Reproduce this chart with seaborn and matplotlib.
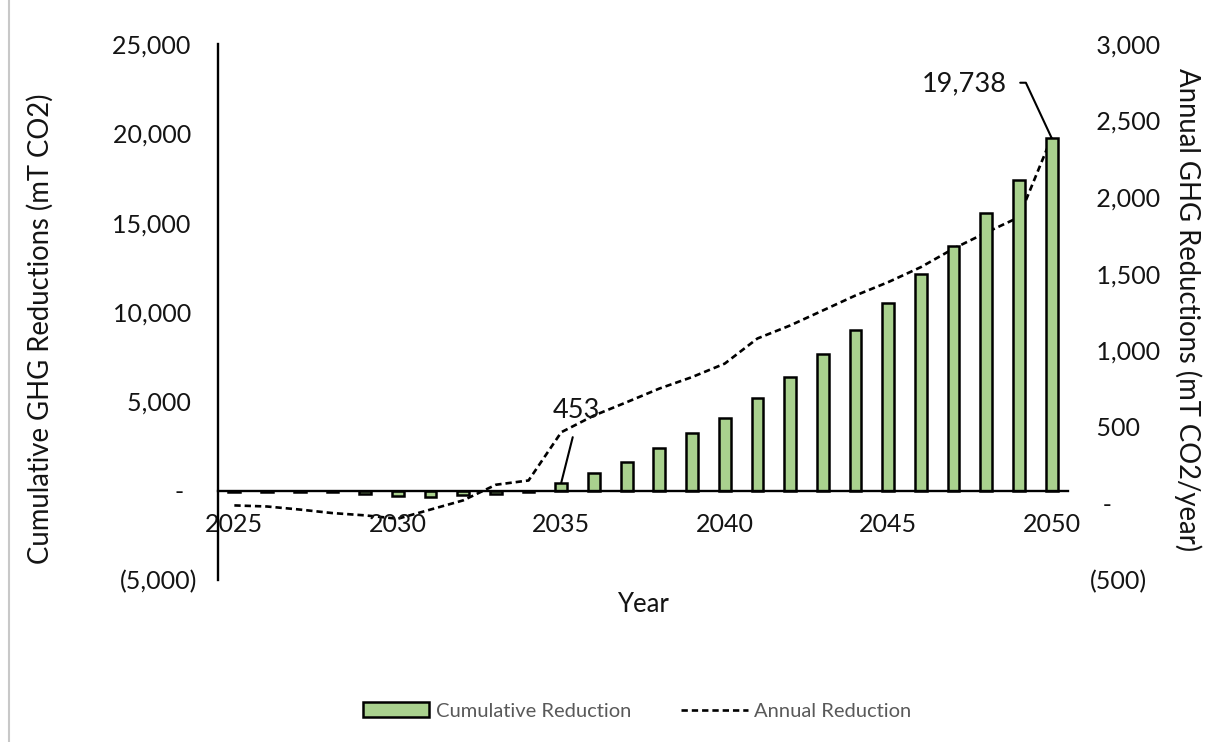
import matplotlib
matplotlib.use("Agg")
import matplotlib.pyplot as plt
import seaborn as sns
import pandas as pd
import numpy as np

# Project GHG reductions by year
years = list(range(2025, 2051))
cumulative_reduction = [-60, -70, -80, -95, -190, -280, -370, -245, -185, -50,
                        453, 974, 1624, 2374, 3214, 4087, 5207, 6383, 7654, 8998,
                        10526, 12116, 13718, 15549, 17396, 19738]
annual_reduction = [-13, -20, -40, -63, -78, -100, -40, 20, 122, 150,
                    465, 574, 661, 750, 825, 913, 1077, 1162, 1260, 1358,
                    1445, 1543, 1664, 1769, 1869, 2390]

left_ticks = [-5000, 0, 5000, 10000, 15000, 20000, 25000]
right_ticks = [-500, 0, 500, 1000, 1500, 2000, 2500, 3000]
year_ticks = [2025, 2030, 2035, 2040, 2045, 2050]

df = pd.DataFrame({"Year": years,
                   "Cumulative Reduction": cumulative_reduction,
                   "Annual Reduction": annual_reduction})

sns.set_theme(style="white")
plt.rcParams["font.family"] = ["Lato", "DejaVu Sans"]

TXT = "#141414"
BAR = "#a9d18e"
DASH = (0, (2.4, 1.5))

W, H = 1207, 742
fig = plt.figure(figsize=(W / 100, H / 100), dpi=100)
fig.patch.set_facecolor("white")
ax = fig.add_axes([218 / W, 1 - 580 / H, (1068 - 218) / W, (580 - 44) / H])
ax2 = ax.twinx()


def acct(v):
    if v == 0:
        return "-  "
    if v < 0:
        return f"({abs(v):,})"
    return f"{v:,} "


sns.barplot(data=df, x="Year", y="Cumulative Reduction", ax=ax, native_scale=True,
            width=0.36, color=BAR, edgecolor="black", linewidth=1.8,
            saturation=1, zorder=3)
sns.lineplot(data=df, x="Year", y="Annual Reduction", ax=ax2, color="black",
             linewidth=1.9, linestyle=DASH, zorder=4)

ax.set_xlim(2024.5, 2050.5)
ax.set_ylim(-5000, 25000)
ax2.set_ylim(-500, 3000)

ax.set_yticks(left_ticks)
ax.set_yticklabels([acct(v) for v in left_ticks])
ax2.set_yticks(right_ticks)
ax2.set_yticklabels([(" " + acct(v).rstrip()) if v > 0 else ("  -" if v == 0 else acct(v))
                     for v in right_ticks])
ax.set_xticks(year_ticks)
ax.set_xticklabels([str(y) for y in year_ticks])

ax.tick_params(axis="y", length=0, pad=15, labelsize=18, labelcolor=TXT)
ax2.tick_params(axis="y", length=0, pad=16, labelsize=18, labelcolor=TXT)
ax.tick_params(axis="x", length=0, pad=16, labelsize=18, labelcolor=TXT)

for s in ["top", "right"]:
    ax.spines[s].set_visible(False)
for s in ax2.spines.values():
    s.set_visible(False)
ax.spines["left"].set_color("black")
ax.spines["left"].set_linewidth(1.7)
ax.spines["bottom"].set_position(("data", 0))
ax.spines["bottom"].set_color("black")
ax.spines["bottom"].set_linewidth(1.7)
ax.spines["bottom"].set_zorder(5)
ax.set_xlabel("")
ax.set_ylabel("")
ax2.set_ylabel("")
ax.grid(False)
ax2.grid(False)
ax.set_zorder(ax2.get_zorder() + 1)
ax.patch.set_visible(False)

# Axis titles
fig.text(643 / W, 1 - 604 / H, "Year", ha="center", va="center", fontsize=18.5, color=TXT)
fig.text(40 / W, 1 - 329 / H, "Cumulative GHG Reductions (mT CO2)", rotation=90,
         ha="center", va="center", fontsize=19.8, color=TXT)
fig.text(1188 / W, 1 - 310 / H, "Annual GHG Reductions (mT CO2/year)", rotation=270,
         ha="center", va="center", fontsize=19.8, color=TXT)

# Callouts on the 2035 and 2050 bars
v35 = cumulative_reduction[years.index(2035)]
v50 = cumulative_reduction[years.index(2050)]
ax.annotate(f"{v35:,}", xy=(2035, v35), xytext=(10.8, 51.8), textcoords="offset points",
            ha="center", va="center", fontsize=19.5, color=TXT, zorder=6,
            arrowprops=dict(arrowstyle="-", color="black", lw=1.5, shrinkA=8, shrinkB=0,
                            relpos=(0.5, 0)))
ax.annotate(f"{v50:,}", xy=(2050, v50), xytext=(-62.6, 38.9), textcoords="offset points",
            ha="center", va="center", fontsize=19.5, color=TXT, zorder=6,
            arrowprops=dict(arrowstyle="-", color="black", lw=1.5, shrinkA=7, shrinkB=0,
                            relpos=(1, 0.55),
                            connectionstyle="angle,angleA=0,angleB=115,rad=0"))

# Legend
handles = [plt.Rectangle((0, 0), 1, 1, facecolor=BAR, edgecolor="black", linewidth=1.8),
           plt.Line2D([0], [0], color="black", lw=1.9, linestyle=DASH)]
leg = fig.legend(handles, ["Cumulative Reduction", "Annual Reduction"],
                 loc="center", bbox_to_anchor=(637 / W, 1 - 711 / H), ncol=2,
                 frameon=False, fontsize=14.5, handlelength=3.3, handleheight=0.75,
                 handletextpad=0.3, columnspacing=2.5)
for t in leg.get_texts():
    t.set_color("#595959")

# Chart-area border on the left edge
fig.add_artist(plt.Line2D([8.5 / W, 8.5 / W], [0, 1], transform=fig.transFigure,
                          color="#c8c8c8", lw=1.5))

fig.savefig("out.png", dpi=100)
